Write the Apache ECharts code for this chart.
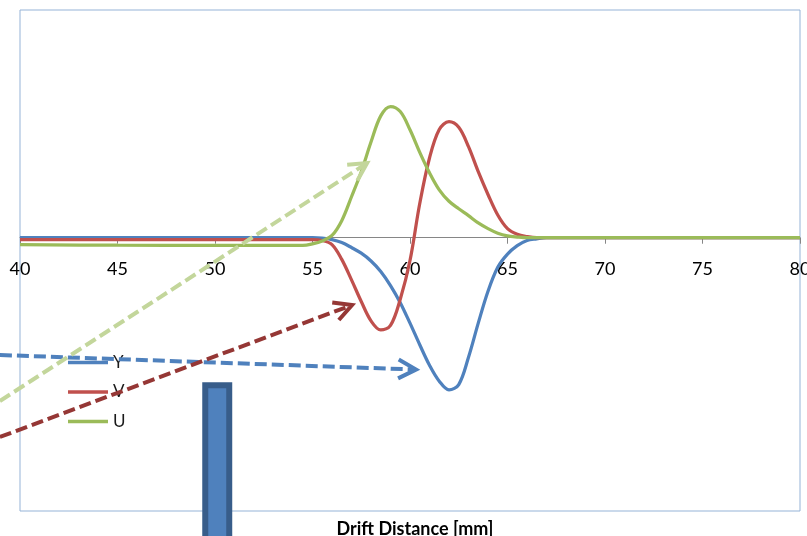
<!DOCTYPE html>
<html>
<head>
<meta charset="utf-8">
<script src="https://cdn.jsdelivr.net/npm/echarts@6/dist/echarts.min.js"></script>
<style>html,body{margin:0;padding:0;background:#fff;}#c{width:807px;height:536px;}</style>
</head>
<body>
<div id="c"></div>
<script>
// Drift distance [mm] sample points (shared by all three series)
const distance = [40, 45, 50, 54, 54.5, 55, 55.5, 56, 56.5, 57, 57.5, 58, 58.5, 59, 59.5, 60, 60.5, 61, 61.5, 62, 62.5, 63, 63.5, 64, 64.5, 65, 65.5, 66, 66.5, 67, 70, 75, 80];
// Signal Y (blue)
const seriesY = [0, 0, 0, 0, 0, 0, -0.002, -0.008, -0.021, -0.043, -0.068, -0.102, -0.148, -0.21, -0.285, -0.375, -0.47, -0.56, -0.63, -0.668, -0.645, -0.525, -0.375, -0.235, -0.13, -0.072, -0.035, -0.012, -0.005, 0, 0, 0, 0];
// Signal V (red)
const seriesV = [-0.008, -0.008, -0.008, -0.008, -0.008, -0.008, -0.012, -0.03, -0.095, -0.185, -0.28, -0.365, -0.405, -0.385, -0.27, -0.10, 0.15, 0.35, 0.475, 0.51, 0.485, 0.40, 0.29, 0.19, 0.10, 0.04, 0.015, 0.005, 0, 0, 0, 0, 0];
// Signal U (green)
const seriesU = [-0.03, -0.033, -0.034, -0.034, -0.034, -0.027, -0.014, 0.01, 0.075, 0.18, 0.29, 0.42, 0.535, 0.576, 0.554, 0.474, 0.375, 0.285, 0.21, 0.16, 0.127, 0.097, 0.065, 0.04, 0.02, 0.008, 0.003, 0, 0, 0, 0, 0, 0];
const seriesNames = ['Y', 'V', 'U'];
const xTicks = [40, 45, 50, 55, 60, 65, 70, 75, 80];
const axisTitle = 'Drift Distance [mm]';

// Overlaid annotation arrows, in data units [distance, amplitude]
const arrowFrom = [[38.97, -0.515], [38.97, -0.875], [38.97, -0.717]];
const arrowTo = [[60.31, -0.579], [57.03, -0.2955], [57.80, 0.328]];
// Overlaid block marker, in data units [x0, x1, yTop, yBottom]
const blockShape = [49.50, 50.73, -0.648, -1.35];

const colors = ['#4F81BD', '#C0504D', '#9BBB59'];
const arrowColors = ['#4F81BD', '#953735', '#C3D69B'];
const vals = [seriesY, seriesV, seriesU];

const W = 807, H = 536, L = 20, R = 7, T = 10, B = 25;
const yMin = -1.2, yMax = 1.0;
const zeroY = T + (H - T - B) * yMax / (yMax - yMin);

const chart = echarts.init(document.getElementById('c'));
const option = {
  animation: false,
  backgroundColor: '#fff',
  grid: [
    { left: L, right: R, top: T, bottom: B, outerBoundsMode: 'none', containLabel: false, show: true, borderColor: '#95B3D7', borderWidth: 1, backgroundColor: 'transparent' },
    { left: L, right: R, top: T, bottom: H - zeroY, outerBoundsMode: 'none', containLabel: false, show: false }
  ],
  title: {
    text: axisTitle, left: 410, top: 515, textAlign: 'center',
    textStyle: { fontFamily: 'Lato', fontWeight: 'bold', fontSize: 18, color: '#000' }
  },
  legend: {
    data: seriesNames, orient: 'vertical', left: 63, top: 349, itemGap: 12.5,
    icon: 'rect', itemWidth: 40, itemHeight: 3.5,
    textStyle: { fontFamily: 'Lato', fontSize: 17, color: '#1a1a1a', lineHeight: 17 }
  },
  xAxis: [{
    gridIndex: 0, type: 'value', min: 40, max: 80, interval: 5,
    axisLine: { onZero: true, lineStyle: { color: '#868686', width: 1 } },
    axisTick: { show: true, length: 6, lineStyle: { color: '#868686' } },
    splitLine: { show: false },
    axisLabel: { show: false }
  }, {
    gridIndex: 1, type: 'value', min: 40, max: 80, interval: 5,
    axisLine: { show: false }, axisTick: { show: false }, splitLine: { show: false },
    axisLabel: { margin: 22, fontFamily: 'Lato', fontSize: 18, color: '#000',
      formatter: v => xTicks.includes(v) ? String(v) : '' }
  }],
  yAxis: [
    { gridIndex: 0, type: 'value', min: yMin, max: yMax, show: false, splitLine: { show: false } },
    { gridIndex: 1, type: 'value', min: 0, max: 1, show: false, splitLine: { show: false } }
  ],
  series: seriesNames.map((n, i) => ({
    name: n, type: 'line', smooth: 0.35, showSymbol: false, symbol: 'none',
    xAxisIndex: 0, yAxisIndex: 0,
    color: colors[i],
    lineStyle: { width: 3.25, color: colors[i] },
    data: distance.map((x, k) => [x, vals[i][k]]),
    z: 2 + i
  }))
};
chart.setOption(option);

const toPx = p => chart.convertToPixel({ gridIndex: 0 }, p);
const g = [];
const b0 = toPx([blockShape[0], blockShape[2]]);
const b1 = toPx([blockShape[1], blockShape[3]]);
g.push({
  type: 'rect', z: 90,
  shape: { x: b0[0], y: b0[1], width: b1[0] - b0[0], height: b1[1] - b0[1] },
  style: { fill: '#4F81BD', stroke: '#385D8A', lineWidth: 6 }
});
arrowFrom.forEach((f, i) => {
  const s = toPx(f), t = toPx(arrowTo[i]);
  const dx = t[0] - s[0], dy = t[1] - s[1], Ln = Math.hypot(dx, dy);
  const ux = -dx / Ln, uy = -dy / Ln;
  const a = 28 * Math.PI / 180, len = 20;
  const r = (ang) => [ux * Math.cos(ang) - uy * Math.sin(ang), ux * Math.sin(ang) + uy * Math.cos(ang)];
  const p1 = r(a), p2 = r(-a);
  g.push({ type: 'polyline', z: 100, shape: { points: [s, [t[0] + ux * 2, t[1] + uy * 2]] },
    style: { stroke: arrowColors[i], lineWidth: 4, lineDash: [12, 5], fill: null } });
  g.push({ type: 'polyline', z: 100,
    shape: { points: [[t[0] + p1[0] * len, t[1] + p1[1] * len], t, [t[0] + p2[0] * len, t[1] + p2[1] * len]] },
    style: { stroke: arrowColors[i], lineWidth: 4, fill: null } });
});
chart.setOption({ graphic: g });
</script>
</body>
</html>
